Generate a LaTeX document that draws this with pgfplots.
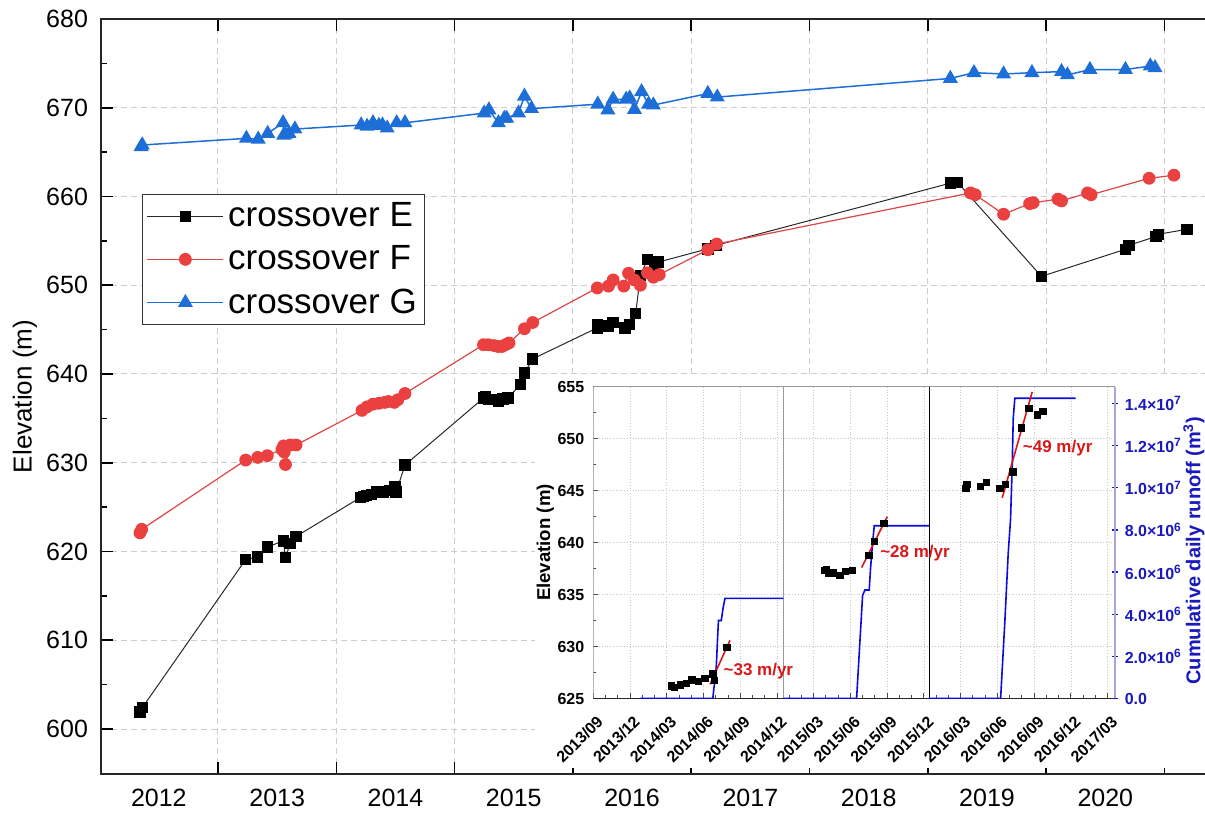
\documentclass[border=0pt]{standalone}
\usepackage{fontspec}
\setmainfont{Liberation Sans}
\usepackage{pgfplots}
\pgfplotsset{compat=1.18}
\definecolor{cE}{RGB}{0,0,0}
\definecolor{cEline}{RGB}{40,40,40}
\definecolor{cF}{RGB}{234,64,64}
\definecolor{cFline}{RGB}{222,70,70}
\definecolor{cG}{RGB}{30,110,215}
\definecolor{gridc}{RGB}{205,205,205}
\definecolor{runblue}{RGB}{10,10,225}
\definecolor{fitred}{RGB}{215,25,25}
\definecolor{rlab}{RGB}{25,25,190}
\definecolor{raxis}{RGB}{165,165,220}
\pgfplotsset{inset/.style={at={(246.15pt,37.75pt)}, anchor=south west, scale only axis,
  width=260.85pt, height=155.9pt, xmin=0, xmax=42.6}}
\begin{document}
\begin{tikzpicture}
\begin{axis}[
  at={(0pt,0pt)}, anchor=south west,
  scale only axis, width=570pt, height=377.5pt,
  xmin=2012.011, xmax=2021.647, ymin=594.93, ymax=680,
  xtick={2012,2013,...,2022}, xticklabels={},
  minor x tick num=3,
  extra x ticks={2012.5,2013.5,2014.5,2015.5,2016.5,2017.5,2018.5,2019.5,2020.5},
  extra x tick labels={2012,2013,2014,2015,2016,2017,2018,2019,2020},
  extra x tick style={grid=none, major tick length=0pt},
  ytick={600,610,...,680}, minor y tick num=1,
  tick align=inside, major tick length=6pt, minor tick length=3pt,
  tick style={black, line width=0.8pt},
  xmajorgrids, ymajorgrids,
  major grid style={dash pattern=on 3pt off 2pt, gridc, line width=0.5pt},
  axis line style={black!85, line width=1pt},
  tick label style={font=\fontsize{12.5}{15}\selectfont},
  /pgf/number format/assume math mode=true,
  yticklabel style={xshift=-3pt},
  xticklabel style={yshift=-4pt},
  ylabel={Elevation (m)},
  ylabel style={font=\fontsize{13}{15}\selectfont, at={([xshift=-38pt]rel axis cs:0,0.5)}, anchor=center},
  legend style={at={(0.036,0.768)}, anchor=north west, draw=black!80, line width=0.6pt, fill=white,
    font=\fontsize{17.5}{20}\selectfont, inner sep=2pt, row sep=4pt,
    /tikz/every even column/.append style={column sep=6pt}},
  legend cell align=left,
  legend image code/.code={\draw[mark repeat=2,mark phase=2] plot coordinates {(0pt,0pt)(19pt,0pt)(38pt,0pt)};},
]
\addplot[cEline, line width=0.5pt, mark=square*, mark size=2.6pt, mark options={solid, fill=cE, draw=cE}] coordinates {
(2012.34,601.9)(2012.36,602.4)
(2013.234,619.1)(2013.336,619.4)(2013.417,620.5)(2013.552,621.2)(2013.57,619.3)(2013.61,620.9)(2013.66,621.7)
(2014.206,626.1)(2014.229,626.2)(2014.257,626.3)(2014.299,626.4)(2014.342,626.7)(2014.398,626.7)(2014.454,626.9)(2014.496,627.3)(2014.505,626.7)(2014.581,629.75)
(2015.245,637.3)(2015.26,637.4)(2015.29,637.1)(2015.33,637.1)(2015.37,636.9)(2015.41,637.2)(2015.45,637.3)(2015.555,638.8)(2015.59,640.1)(2015.66,641.7)
(2016.206,645.2)(2016.21,645.6)(2016.30,645.4)(2016.34,645.8)(2016.44,645.2)(2016.48,645.6)(2016.53,646.8)(2016.57,651.1)(2016.63,652.9)(2016.69,652.3)(2016.72,652.6)
(2017.14,654.1)(2017.21,654.5)
(2019.19,661.5)(2019.25,661.6)(2019.96,651.0)
(2020.67,654.05)(2020.70,654.5)(2020.93,655.5)(2020.95,655.75)(2021.19,656.3)
};
\addlegendentry{crossover E}
\addplot[cFline, line width=0.6pt, mark=*, mark size=2.9pt, mark options={solid, fill=cF, draw=cF}] coordinates {
(2012.34,622.1)(2012.355,622.5)
(2013.234,630.3)(2013.336,630.6)(2013.417,630.8)(2013.54,631.5)(2013.555,631.9)(2013.56,631.2)(2013.57,629.8)(2013.61,632.0)(2013.66,632.0)
(2014.217,635.9)(2014.26,636.3)(2014.31,636.6)(2014.36,636.7)(2014.41,636.8)(2014.44,636.9)(2014.49,636.8)(2014.52,637.1)(2014.58,637.8)
(2015.244,643.3)(2015.285,643.3)(2015.334,643.2)(2015.367,643.1)(2015.40,643.1)(2015.43,643.3)(2015.46,643.5)(2015.59,645.1)(2015.66,645.8)
(2016.206,649.7)(2016.30,649.9)(2016.34,650.6)(2016.43,649.9)(2016.47,651.35)(2016.52,650.6)(2016.57,650.0)(2016.63,651.4)(2016.68,650.9)(2016.73,651.2)
(2017.14,654.0)(2017.215,654.65)
(2019.36,660.4)(2019.40,660.2)(2019.64,658.0)(2019.86,659.2)(2019.89,659.3)(2020.10,659.7)(2020.13,659.5)(2020.35,660.4)(2020.38,660.2)
(2020.87,662.05)(2021.08,662.4)
};
\addlegendentry{crossover F}
\addplot[cG, line width=0.75pt, mark=triangle*, mark size=3.6pt, mark options={solid, fill=cG, draw=cG}] coordinates {
(2012.35,665.6)(2012.36,665.8)
(2013.24,666.55)(2013.34,666.45)(2013.42,667.1)(2013.55,668.3)(2013.555,666.9)(2013.57,667.0)(2013.60,667.1)(2013.65,667.6)
(2014.21,668.05)(2014.26,667.9)(2014.31,668.3)(2014.36,668.0)(2014.39,668.05)(2014.43,667.7)(2014.51,668.3)(2014.58,668.3)
(2015.25,669.4)(2015.29,669.75)(2015.37,668.3)(2015.42,668.8)(2015.44,668.8)(2015.54,669.4)(2015.59,671.3)(2015.65,669.9)
(2016.21,670.4)(2016.295,669.75)(2016.34,670.95)(2016.45,670.95)(2016.48,671.1)(2016.52,669.8)(2016.58,671.8)(2016.64,670.4)(2016.68,670.3)
(2017.14,671.6)(2017.22,671.2)
(2019.19,673.3)(2019.39,673.95)(2019.64,673.8)(2019.88,673.95)(2020.13,674.07)(2020.18,673.7)(2020.37,674.3)(2020.67,674.3)(2020.88,674.7)(2020.92,674.5)
};
\addlegendentry{crossover G}
\end{axis}
\fill[white] (217pt,3pt) rectangle (560pt,198pt);
% inset: grid, ticks, left axis
\begin{axis}[inset, ymin=625, ymax=655,
  axis x line*=bottom, axis y line*=left, axis line style={draw=none},
  xtick={0,3,...,42},
  xticklabels={2013/09,2013/12,2014/03,2014/06,2014/09,2014/12,2015/03,2015/06,2015/09,2015/12,2016/03,2016/06,2016/09,2016/12,2017/03},
  minor x tick num=2,
  ytick={625,630,...,655}, minor y tick num=1,
  tick align=inside, major tick length=2.5pt, minor tick length=1.5pt,
  tick style={black!70, line width=0.5pt},
  grid=major, major grid style={densely dotted, gray!45, line width=0.4pt},
  tick label style={font=\fontsize{8}{9.6}\selectfont\bfseries},
  /pgf/number format/assume math mode=true,
  xticklabel style={inner sep=0pt, xshift=3.5pt, yshift=-10pt, rotate=45, anchor=east},
  yticklabel style={xshift=-1pt},
  ylabel={Elevation (m)},
  ylabel style={font=\fontsize{9.3}{11}\selectfont\bfseries, at={([xshift=-24pt]rel axis cs:0,0.5)}, anchor=center},
]
\draw[gray!80, line width=0.6pt] (rel axis cs:0,0) -- (rel axis cs:0,1) -- (rel axis cs:1,1);
\draw[black!85, line width=0.7pt] (rel axis cs:0,0) -- (rel axis cs:1,0);
\draw[gray!80, line width=0.6pt] (axis cs:15.51,625) -- (axis cs:15.51,655);
\draw[black, line width=0.6pt] (axis cs:27.43,625) -- (axis cs:27.43,655);
\end{axis}
% inset: right axis, cumulative runoff (10^6 m^3)
\begin{axis}[inset, ymin=0, ymax=14.8,
  axis x line=none, axis y line*=right,
  y axis line style={draw=raxis, line width=0.8pt},
  ytick={0,2,...,14},
  yticklabels={0.0,2.0×10\textsuperscript{6},4.0×10\textsuperscript{6},6.0×10\textsuperscript{6},8.0×10\textsuperscript{6},1.0×10\textsuperscript{7},1.2×10\textsuperscript{7},1.4×10\textsuperscript{7}},
  tick align=center, major tick length=2.7pt, ytick style={rlab, line width=0.6pt},
  yticklabel style={font=\fontsize{8}{9.6}\selectfont\bfseries, text=rlab},
  ylabel={Cumulative daily runoff (m\textsuperscript{3})},
  ylabel style={font=\fontsize{10}{12}\selectfont\bfseries, text=rlab, at={([xshift=39.5pt,yshift=-4pt]rel axis cs:1,0.5)}, anchor=center},
]
\addplot[runblue, line width=0.8pt] coordinates {(3.85,0)(9.76,0)(9.85,0.5)(9.95,0.9)(10.05,1.6)(10.15,2.9)(10.22,3.7)(10.45,3.7)(10.6,4.3)(10.75,4.75)(15.51,4.75)};
\addplot[runblue, line width=0.8pt] coordinates {(15.51,0)(21.5,0)(21.75,2.5)(21.99,4.9)(22.18,5.15)(22.53,5.15)(22.64,6.2)(22.78,7.2)(22.94,8.2)(27.43,8.2)};
\addplot[runblue, line width=0.8pt] coordinates {(27.43,0)(33.26,0)(33.61,3.7)(33.88,6.9)(34.07,8.5)(34.2,10.9)(34.29,13.3)(34.42,14.25)(39.38,14.25)};
\end{axis}
% inset: elevation points and fitted rates
\begin{axis}[inset, ymin=625, ymax=655, hide axis]
\addplot[only marks, mark=square*, mark size=1.6pt, black] coordinates {
(6.38,626.2)(6.6,626.05)(7.1,626.3)(7.6,626.45)(8.06,626.8)(8.6,626.65)(9.1,626.95)(9.77,627.35)(9.88,626.75)(10.9,629.9)
(18.9,637.3)(19.05,637.45)(19.2,637.1)(19.6,637.1)(20.15,636.85)(20.6,637.2)(21.15,637.3)(22.5,638.75)(22.93,640.1)(23.72,641.85)
(30.44,645.2)(30.51,645.6)(31.63,645.4)(32.1,645.8)(33.2,645.2)(33.63,645.6)(34.27,646.8)(34.94,651.05)(35.58,652.9)(36.25,652.3)(36.71,652.6)
};
\addplot[fitred, line width=0.8pt] coordinates {(9.53,626.36)(11.16,630.6)};
\addplot[fitred, line width=0.8pt] coordinates {(21.91,637.6)(24.0,642.5)};
\addplot[fitred, line width=0.8pt] coordinates {(33.39,644.3)(35.84,654.5)};
\node[anchor=west, text=fitred, font=\fontsize{8.5}{10}\selectfont\bfseries, inner sep=0pt] at (axis cs:10.61,627.67) {\textasciitilde 33 m/yr};
\node[anchor=west, text=fitred, font=\fontsize{8.5}{10}\selectfont\bfseries, inner sep=0pt] at (axis cs:23.4,639.0) {\textasciitilde 28 m/yr};
\node[anchor=west, text=fitred, font=\fontsize{8.5}{10}\selectfont\bfseries, inner sep=0pt] at (axis cs:35.05,649.13) {\textasciitilde 49 m/yr};
\end{axis}
\pgfresetboundingbox
\path[use as bounding box] (-50.5pt,-19.5pt) rectangle (552pt,387pt);
\end{tikzpicture}
\end{document}
